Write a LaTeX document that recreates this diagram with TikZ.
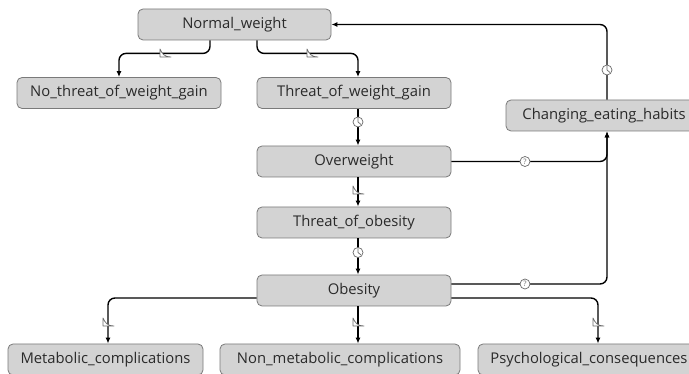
\documentclass[tikz,border=0pt]{standalone}
\usepackage{fontspec}
\setmainfont{Open Sans}
\usetikzlibrary{arrows.meta,calc}
\definecolor{boxfill}{HTML}{D3D3D3}
\definecolor{boxborder}{HTML}{7A7A7A}
\definecolor{textgray}{HTML}{2A2A2A}
\definecolor{glyphgray}{HTML}{6A6A6A}
\begin{document}
\begin{tikzpicture}[x=1pt,y=-1pt,
  box/.style={draw=boxborder, fill=boxfill, rounded corners=5pt, line width=0.8pt,
    text=textgray, font=\fontsize{14.8}{16}\selectfont, inner sep=0pt,
    minimum height=31pt},
  conn/.style={line width=1.4pt, rounded corners=7pt,
    -{Latex[length=6pt,width=5pt]}},
  ramp/.pic={\draw[glyphgray, fill=white, line width=0.7pt, line join=round]
    (-5,-4) -- (-5,4) -- (6,4) .. controls (0,4) and (-3,1) .. (-5,-4) -- cycle;},
  clock/.pic={\draw[glyphgray, fill=white, line width=0.7pt] (0,0) circle (5);
    \draw[glyphgray, line width=0.7pt] (0,-4) -- (0,0) -- (3,2.5);},
  quest/.pic={\draw[glyphgray, fill=white, line width=0.7pt] (0,0) circle (5);
    \node[inner sep=0pt, text=glyphgray, font=\fontsize{7.5}{8}\selectfont] at (0,0.3) {?};}
]
\clip (0,0) rectangle (689,374);
\fill[white] (0,0) rectangle (689,374);

\node[box, minimum width=193pt] (nw)  at (234.5,24.5) {Normal\_weight};
\node[box, minimum width=204pt] (nt)  at (119,93)     {No\_threat\_of\_weight\_gain};
\node[box, minimum width=194pt] (twg) at (354,93)     {Threat\_of\_weight\_gain};
\node[box, minimum width=196pt] (ceh) at (604,115.5)  {Changing\_eating\_habits};
\node[box, minimum width=194pt] (ow)  at (354,161.5)  {Overweight};
\node[box, minimum width=194pt] (too) at (354,222.5)  {Threat\_of\_obesity};
\node[box, minimum width=194pt] (ob)  at (354,290.5)  {Obesity};
\node[box, minimum width=195pt] (met) at (105.5,359.5) {Metabolic\_complications};
\node[box, minimum width=240pt] (nmc) at (340,359.5)  {Non\_metabolic\_complications};
\node[box, minimum width=222pt] (psy) at (589,359.5)  {Psychological\_consequences};

\draw[conn] ([xshift=-24.5pt]nw.south) -- ++(0,13) -| (nt.north);
\draw[conn] ([xshift=22.5pt]nw.south) -- ++(0,13) -| ([xshift=4pt]twg.north);
\draw[conn] ([xshift=4pt]twg.south) -- ([xshift=4pt]ow.north);
\draw[conn] ([xshift=4pt]ow.south) -- ([xshift=4pt]too.north);
\draw[conn] ([xshift=4pt]too.south) -- ([xshift=4pt]ob.north);
\draw[conn] (ow.east) -| ([xshift=3pt]ceh.south);
\draw[conn] ([yshift=6.5pt]ob.east) -| ([xshift=3pt]ceh.south);
\draw[conn] ([xshift=3pt]ceh.north) |- (nw.east);
\draw[conn] ([yshift=-7.5pt]ob.west) -| ([xshift=2.5pt]met.north);
\draw[conn] ([xshift=4pt]ob.south) -- ([xshift=4pt]ob.south |- nmc.north);
\draw[conn] ([yshift=-7.5pt]ob.east) -| ([xshift=9pt]psy.north);

\pic at (165,53) {ramp};
\pic at (312,53) {ramp};
\pic at (358,190) {ramp};
\pic at (108,322) {ramp};
\pic at (358,322) {ramp};
\pic at (598,322) {ramp};
\pic at (358,122) {clock};
\pic at (358,252.5) {clock};
\pic at (607,70) {clock};
\pic at (525,161.5) {quest};
\pic at (525,284) {quest};
\end{tikzpicture}
\end{document}
